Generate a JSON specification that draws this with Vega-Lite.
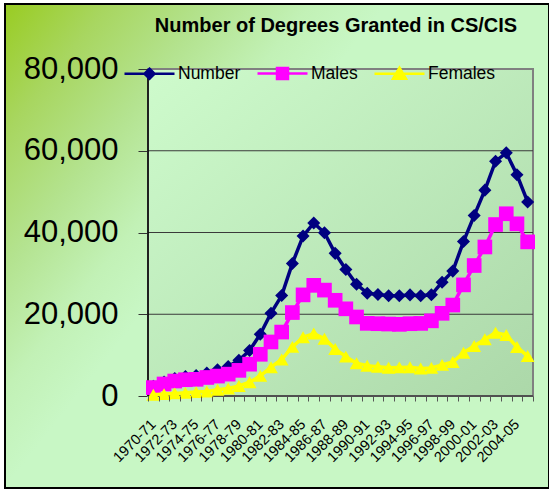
{
  "$schema": "https://vega.github.io/schema/vega-lite/v6.json",
  "width": 544,
  "height": 484,
  "autosize": {"type": "none"},
  "padding": {"left": 5, "top": 4, "right": 0, "bottom": 1},
  "background": "#ffffff",
  "title": {
    "text": "Number of Degrees Granted in CS/CIS",
    "font": "Liberation Sans",
    "fontSize": 20,
    "fontWeight": "bold",
    "color": "#000000",
    "anchor": "middle",
    "frame": "group",
    "offset": -32,
    "dx": 59
  },
  "config": {
    "view": {
      "fill": {"gradient": "linear", "x1": 0, "y1": 0, "x2": 0.47, "y2": 0.33,
        "stops": [
          {"offset": 0, "color": "#99cc22"},
          {"offset": 0.27, "color": "#a8d660"},
          {"offset": 0.55, "color": "#b4e390"},
          {"offset": 0.8, "color": "#c2f1b6"},
          {"offset": 1, "color": "#c8f7c5"}
        ]},
      "stroke": "#000000",
      "strokeWidth": 2
    }
  },
  "data": {
    "values": [
      {"year": "1970-71", "Number": 2388, "Males": 2064, "Females": 324},
      {"year": "1971-72", "Number": 3402, "Males": 2941, "Females": 461},
      {"year": "1972-73", "Number": 4304, "Males": 3664, "Females": 640},
      {"year": "1973-74", "Number": 4756, "Males": 3987, "Females": 769},
      {"year": "1974-75", "Number": 5033, "Males": 4080, "Females": 953},
      {"year": "1975-76", "Number": 5652, "Males": 4534, "Females": 1118},
      {"year": "1976-77", "Number": 6407, "Males": 4876, "Females": 1531},
      {"year": "1977-78", "Number": 7201, "Males": 5349, "Females": 1852},
      {"year": "1978-79", "Number": 8719, "Males": 6272, "Females": 2447},
      {"year": "1979-80", "Number": 11154, "Males": 7782, "Females": 3372},
      {"year": "1980-81", "Number": 15121, "Males": 10202, "Females": 4919},
      {"year": "1981-82", "Number": 20267, "Males": 13218, "Females": 7049},
      {"year": "1982-83", "Number": 24565, "Males": 15641, "Females": 8924},
      {"year": "1983-84", "Number": 32439, "Males": 20416, "Females": 12023},
      {"year": "1984-85", "Number": 39121, "Males": 24737, "Females": 14384},
      {"year": "1985-86", "Number": 42337, "Males": 27069, "Females": 15268},
      {"year": "1986-87", "Number": 39927, "Males": 25907, "Females": 14020},
      {"year": "1987-88", "Number": 34896, "Males": 23414, "Females": 11482},
      {"year": "1988-89", "Number": 30963, "Males": 21330, "Females": 9633},
      {"year": "1989-90", "Number": 27347, "Males": 19334, "Females": 8013},
      {"year": "1990-91", "Number": 25159, "Males": 17771, "Females": 7388},
      {"year": "1991-92", "Number": 24821, "Males": 17685, "Females": 7136},
      {"year": "1992-93", "Number": 24519, "Males": 17606, "Females": 6913},
      {"year": "1993-94", "Number": 24527, "Males": 17528, "Females": 6999},
      {"year": "1994-95", "Number": 24737, "Males": 17684, "Females": 7053},
      {"year": "1995-96", "Number": 24506, "Males": 17757, "Females": 6749},
      {"year": "1996-97", "Number": 24768, "Males": 18389, "Females": 6879},
      {"year": "1997-98", "Number": 27851, "Males": 20229, "Females": 7622},
      {"year": "1998-99", "Number": 30552, "Males": 22244, "Females": 8308},
      {"year": "1999-00", "Number": 37788, "Males": 27185, "Females": 10603},
      {"year": "2000-01", "Number": 44142, "Males": 31923, "Females": 12219},
      {"year": "2001-02", "Number": 50365, "Males": 36462, "Females": 13903},
      {"year": "2002-03", "Number": 57439, "Males": 41950, "Females": 15489},
      {"year": "2003-04", "Number": 59488, "Males": 44585, "Females": 14903},
      {"year": "2004-05", "Number": 54111, "Males": 42125, "Females": 11986},
      {"year": "2005-06", "Number": 47480, "Males": 37705, "Females": 9775}
    ]
  },
  "transform": [{"fold": ["Number", "Males", "Females"], "as": ["series", "value"]}],
  "encoding": {
    "x": {
      "field": "year", "type": "ordinal", "sort": null,
      "scale": {
        "domain": ["1970-71", "1971-72", "1972-73", "1973-74", "1974-75", "1975-76", "1976-77", "1977-78", "1978-79", "1979-80", "1980-81", "1981-82", "1982-83", "1983-84", "1984-85", "1985-86", "1986-87", "1987-88", "1988-89", "1989-90", "1990-91", "1991-92", "1992-93", "1993-94", "1994-95", "1995-96", "1996-97", "1997-98", "1998-99", "1999-00", "2000-01", "2001-02", "2002-03", "2003-04", "2004-05", "2005-06"],
        "range": [143, 528],
        "paddingInner": 0, "paddingOuter": 0
      },
      "axis": {
        "title": null,
        "offset": -92,
        "domain": false,
        "labelAngle": -45,
        "labelAlign": "right",
        "labelBaseline": "middle",
        "labelFont": "Liberation Sans",
        "labelFontSize": 14.5,
        "labelColor": "#000000",
        "labelExpr": "toNumber(substring(datum.value, 0, 4)) % 2 === 0 ? datum.value : ''",
        "labelOverlap": false,
        "labelPadding": 21,
        "tickBand": "extent",
        "tickSize": 5,
        "tickColor": "#555555",
        "grid": false
      }
    },
    "y": {
      "field": "value", "type": "quantitative",
      "scale": {"domain": [0, 80000], "range": [392, 65], "nice": false, "zero": false},
      "axis": {
        "title": null,
        "offset": -143,
        "domain": false,
        "values": [0, 20000, 40000, 60000, 80000],
        "format": ",.0f",
        "labelFont": "Liberation Sans",
        "labelFontSize": 31,
        "labelColor": "#000000",
        "labelPadding": 20,
        "tickSize": 10,
        "tickColor": "#333333",
        "grid": false
      }
    },
    "color": {
      "field": "series", "type": "nominal",
      "scale": {"domain": ["Number", "Males", "Females"], "range": ["#000080", "#ff00ff", "#ffff00"]},
      "legend": null
    }
  },
  "layer": [
    {
      "transform": [{"filter": "datum.series === 'Number' && datum.year === '1970-71'"}],
      "mark": {"type": "rect", "stroke": "#808080", "strokeWidth": 2},
      "encoding": {
        "x": {"datum": "1970-71", "type": "ordinal", "bandPosition": 0},
        "x2": {"datum": "2005-06", "bandPosition": 1},
        "y": {"datum": 0, "type": "quantitative"},
        "y2": {"datum": 80000},
        "color": {"value": {"gradient": "linear", "x1": 0, "y1": 0, "x2": 1, "y2": 1,
          "stops": [{"offset": 0, "color": "#cefbcc"}, {"offset": 1, "color": "#acd8a9"}]}}
      }
    },
    {
      "transform": [{"filter": "datum.series === 'Number' && datum.year === '1970-71'"}],
      "mark": {"type": "rule", "strokeWidth": 1},
      "encoding": {
        "x": {"datum": "1970-71", "type": "ordinal", "bandPosition": 0},
        "x2": {"datum": "2005-06", "bandPosition": 1},
        "y": {"datum": 20000, "type": "quantitative"},
        "color": {"value": "#3a3a3a"}
      }
    },
    {
      "transform": [{"filter": "datum.series === 'Number' && datum.year === '1970-71'"}],
      "mark": {"type": "rule", "strokeWidth": 1},
      "encoding": {
        "x": {"datum": "1970-71", "type": "ordinal", "bandPosition": 0},
        "x2": {"datum": "2005-06", "bandPosition": 1},
        "y": {"datum": 40000, "type": "quantitative"},
        "color": {"value": "#3a3a3a"}
      }
    },
    {
      "transform": [{"filter": "datum.series === 'Number' && datum.year === '1970-71'"}],
      "mark": {"type": "rule", "strokeWidth": 1},
      "encoding": {
        "x": {"datum": "1970-71", "type": "ordinal", "bandPosition": 0},
        "x2": {"datum": "2005-06", "bandPosition": 1},
        "y": {"datum": 60000, "type": "quantitative"},
        "color": {"value": "#3a3a3a"}
      }
    },
    {
      "transform": [{"filter": "datum.series === 'Number' && datum.year === '1970-71'"}],
      "mark": {"type": "rule", "strokeWidth": 1.5},
      "encoding": {
        "x": {"datum": "1970-71", "type": "ordinal", "bandPosition": 0},
        "x2": {"datum": "2005-06", "bandPosition": 1},
        "y": {"datum": 0, "type": "quantitative"},
        "color": {"value": "#404040"}
      }
    },
    {
      "transform": [{"filter": "datum.series === 'Number' && datum.year === '1970-71'"}],
      "mark": {"type": "rule", "strokeWidth": 1.5},
      "encoding": {
        "x": {"datum": "1970-71", "type": "ordinal", "bandPosition": 0},
        "y": {"datum": 0, "type": "quantitative"},
        "y2": {"datum": 80000},
        "color": {"value": "#000000"}
      }
    },
    {"transform": [{"filter": "datum.series === 'Number'"}], "mark": {"type": "line", "strokeWidth": 3.5}},
    {"transform": [{"filter": "datum.series === 'Number'"}], "mark": {"type": "point", "shape": "diamond", "filled": true, "size": 170, "opacity": 1}},
    {"transform": [{"filter": "datum.series === 'Males'"}], "mark": {"type": "line", "strokeWidth": 3.5}},
    {"transform": [{"filter": "datum.series === 'Males'"}], "mark": {"type": "point", "shape": "square", "filled": true, "size": 215, "opacity": 1}},
    {"transform": [{"filter": "datum.series === 'Females'"}], "mark": {"type": "line", "strokeWidth": 3.5}},
    {"transform": [{"filter": "datum.series === 'Females'"}], "mark": {"type": "point", "shape": "triangle-up", "filled": true, "size": 190, "opacity": 1}},
    {
      "mark": {"type": "point", "filled": true, "opacity": 0},
      "encoding": {
        "shape": {
          "field": "series", "type": "nominal",
          "sort": ["Number", "Males", "Females"],
          "scale": {
            "range": [
              "M-2.5,0H2.5M0,-0.5L0.5,0L0,0.5L-0.5,0Z",
              "M-2.5,0H2.5M-0.55,-0.55H0.55V0.55H-0.55Z",
              "M-2.5,0H2.5M0,-0.6L0.65,0.5L-0.65,0.5Z"
            ]
          },
          "legend": {
            "orient": "none",
            "legendX": 133,
            "legendY": 58,
            "direction": "horizontal",
            "title": null,
            "labelFont": "Liberation Sans",
            "labelFontSize": 17.5,
            "labelColor": "#000000",
            "symbolSize": 400,
            "symbolStrokeWidth": 2.5,
            "symbolOpacity": 1,
            "symbolFillColor": {"expr": "scale('color', datum.value)"},
            "symbolStrokeColor": {"expr": "scale('color', datum.value)"},
            "labelOffset": 17,
            "columnPadding": 11
          }
        }
      }
    }
  ]
}
